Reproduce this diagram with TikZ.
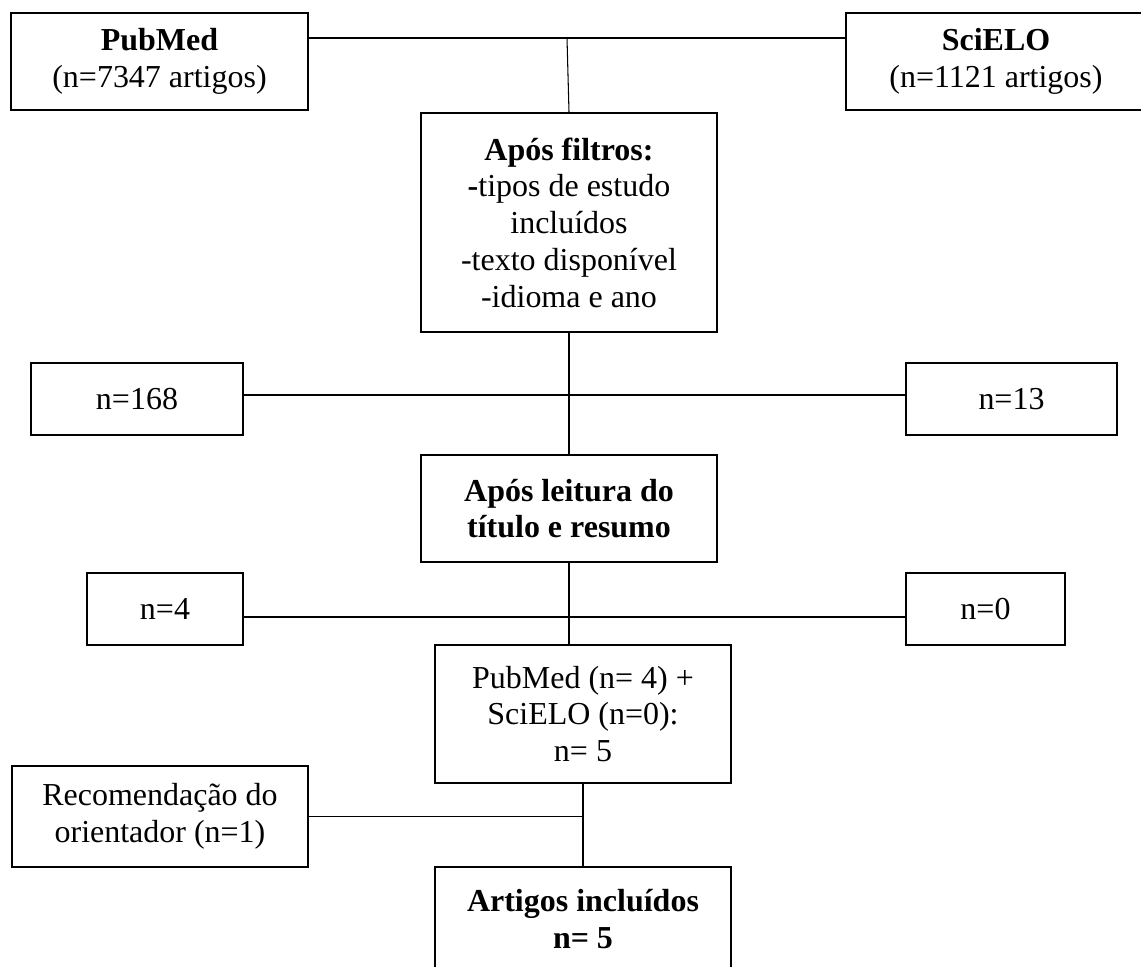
\documentclass[tikz,border=0pt]{standalone}
\usepackage{fontspec}
\setmainfont{Liberation Serif}
\usepackage{tikz}
\usetikzlibrary{positioning, calc}

\begin{document}
\begin{tikzpicture}[
    box/.style={draw, line width=1.1pt, align=center, inner sep=0pt,
        font=\fontsize{18.2}{20.9}\selectfont},
    link/.style={line width=0.6pt},
]
    \useasboundingbox (0,0) rectangle (22.82,-19.34);

    % bases
    \node[box, minimum width=5.94cm, minimum height=1.94cm] (pubmed) at (3.19,-1.23) {\textbf{PubMed}\\(n=7347 artigos)};
    \node[box, minimum width=6.0cm, minimum height=1.94cm] (scielo) at (19.92,-1.23) {\textbf{SciELO}\\(n=1121 artigos)};
    \node[box, minimum width=5.92cm, minimum height=4.38cm] (filtros) at (11.38,-4.45)
        {\textbf{Após filtros:}\\\textbf{-}tipos de estudo\\incluídos\\-texto disponível\\-idioma e ano};

    \coordinate (jtop) at (11.34,-0.76);
    \draw[link] (pubmed.east |- jtop) -- (scielo.west |- jtop);
    \draw[link] (jtop) -- (filtros.north);

    % primeira triagem
    \node[box, minimum width=4.24cm, minimum height=1.44cm] (n168) at (2.74,-7.98) {n=168};
    \node[box, minimum width=4.22cm, minimum height=1.44cm] (n13) at (20.23,-7.98) {n=13};
    \node[box, minimum width=5.92cm, minimum height=2.14cm] (leitura) at (11.38,-10.17)
        {\textbf{Após leitura do}\\\textbf{título e resumo}};

    \coordinate (jmid) at (11.36,-7.90);
    \draw[link] (filtros.south) -- (leitura.north);
    \draw[link] (n168.east |- jmid) -- (n13.west |- jmid);

    % segunda triagem
    \node[box, minimum width=3.12cm, minimum height=1.44cm] (n4) at (3.30,-12.18) {n=4};
    \node[box, minimum width=3.18cm, minimum height=1.44cm] (n0) at (19.71,-12.18) {n=0};
    \node[box, minimum width=5.92cm, minimum height=2.76cm] (soma) at (11.66,-14.28)
        {PubMed (n= 4) +\\SciELO (n=0):\\n= 5};

    \coordinate (jlow) at (11.40,-12.34);
    \draw[link] (leitura.south) -- (leitura.south |- soma.north);
    \draw[link] (n4.east |- jlow) -- (n0.west |- jlow);

    % inclusao final
    \node[box, minimum width=5.92cm, minimum height=2.02cm] (recom) at (3.20,-16.33)
        {Recomendação do\\orientador (n=1)};
    \node[box, minimum width=5.92cm, minimum height=2.08cm] (incl) at (11.66,-18.38)
        {\textbf{Artigos incluídos}\\\textbf{n= 5}};

    \draw[link] (soma.south) -- (incl.north);
    \draw[link] (recom.east) -- (recom.east -| soma.south);
\end{tikzpicture}
\end{document}
